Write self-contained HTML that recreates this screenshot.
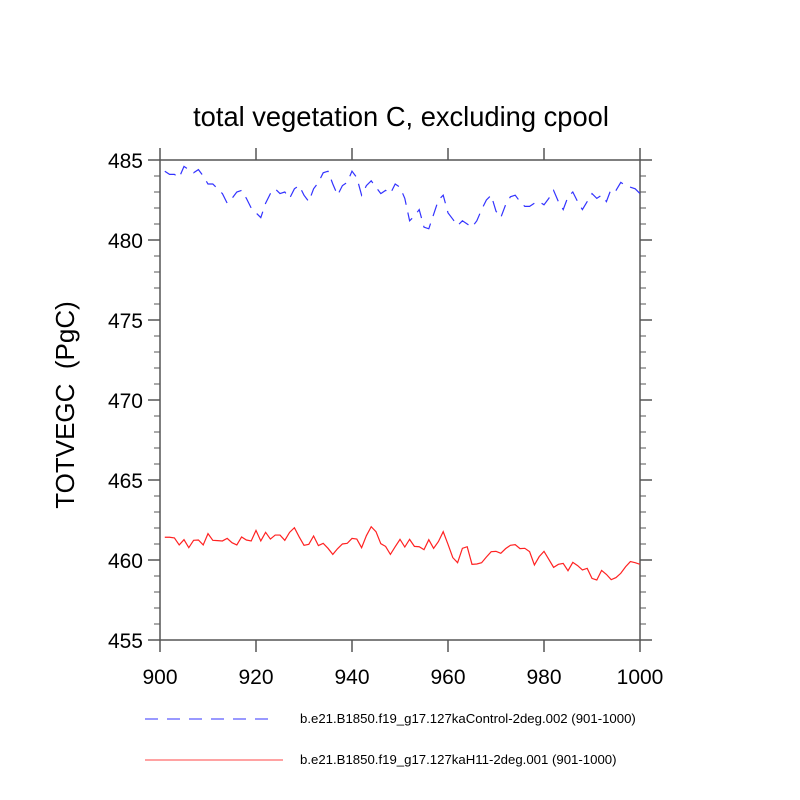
<!DOCTYPE html>
<html><head><meta charset="utf-8"><style>
body{margin:0;background:#fff}
svg{display:block;font-family:"Liberation Sans",Arial,sans-serif}
</style></head><body>
<svg id="c" width="800" height="800" viewBox="0 0 800 800">
<text x="401" y="126" text-anchor="middle" font-size="27.3">total vegetation C, excluding cpool</text>
<text transform="translate(74,405) rotate(-90)" text-anchor="middle" font-size="26" style="white-space:pre">TOTVEGC  (PgC)</text>
<g id="ax"></g>
<g id="series"></g>
<g>
<line x1="145" y1="719" x2="277" y2="719" stroke="#33f" stroke-width="1" stroke-dasharray="13,9"/>
<text x="300" y="723" font-size="13.2">b.e21.B1850.f19_g17.127kaControl-2deg.002 (901-1000)</text>
<line x1="145" y1="760" x2="283" y2="760" stroke="#f44" stroke-width="1"/>
<text x="300" y="764" font-size="13.2">b.e21.B1850.f19_g17.127kaH11-2deg.001 (901-1000)</text>
</g>
</svg>
<script>
const years = Array.from({length:100},(_,i)=>901+i);
const controlValues = [484.3,484.1,484.1,483.9,484.6,484.4,484.2,484.4,484.0,483.5,483.5,483.2,482.9,482.3,482.6,483.0,483.1,482.6,482.0,481.7,481.4,482.3,482.9,483.2,482.9,483.0,482.6,483.2,483.4,482.8,482.4,483.2,483.6,484.2,484.3,483.5,482.8,483.4,483.6,484.3,483.9,482.8,483.4,483.7,483.3,482.9,483.1,482.9,483.5,483.3,482.6,481.2,481.5,481.9,480.8,480.7,481.6,482.5,482.8,481.7,481.3,480.9,481.2,481.0,480.8,481.2,481.9,482.5,482.8,481.8,481.4,482.2,482.7,482.8,482.4,482.1,482.1,482.3,482.4,482.2,482.6,483.1,482.4,481.9,482.7,483.0,482.4,481.9,482.4,482.9,482.6,482.8,482.4,483.2,483.1,483.6,483.4,483.3,483.2,482.9];
const h11Values = [461.42,461.42,461.38,460.94,461.27,460.77,461.23,461.25,460.94,461.65,461.23,461.21,461.19,461.35,461.08,460.94,461.44,461.25,461.19,461.85,461.19,461.73,461.31,461.56,461.56,461.23,461.73,462.02,461.44,460.92,460.98,461.5,460.9,461.04,460.73,460.35,460.71,461.0,461.04,461.35,461.31,460.77,461.52,462.08,461.77,461.02,460.85,460.35,460.83,461.29,460.81,461.29,460.85,460.83,460.65,461.27,460.73,461.15,461.77,460.98,460.15,459.83,460.73,460.83,459.73,459.75,459.83,460.19,460.52,460.54,460.42,460.71,460.92,460.96,460.71,460.73,460.52,459.69,460.21,460.54,460.04,459.54,459.73,459.79,459.33,459.85,459.65,459.38,459.48,458.85,458.75,459.35,459.1,458.77,458.9,459.17,459.58,459.9,459.83,459.73];
const xTicks = [900,920,940,960,980,1000];
const yTicks = [455,460,465,470,475,480,485];
const NS="http://www.w3.org/2000/svg";
const X0=160,X1=640,Y0=160,Y1=640;
const xs=v=>X0+(v-900)/100*(X1-X0);
const ys=v=>Y1-(v-455)/30*(Y1-Y0);
function mk(t,a,p){const e=document.createElementNS(NS,t);for(const k in a)e.setAttribute(k,a[k]);p.appendChild(e);return e;}
const ax=document.getElementById('ax');
const frame=mk('rect',{x:X0,y:Y0,width:X1-X0,height:Y1-Y0,fill:'none',stroke:'#555','stroke-width':1.5},ax);


xTicks.forEach(t=>{
  const x=xs(t);
  mk('line',{x1:x,y1:Y1,x2:x,y2:Y1+12,stroke:'#555','stroke-width':1.5},ax);
  mk('line',{x1:x,y1:Y0,x2:x,y2:Y0-12,stroke:'#555','stroke-width':1.5},ax);
  const tx=mk('text',{x:x,y:Y1+44,'text-anchor':'middle','font-size':21},ax);
  tx.textContent=t;
  
  
});
for(let v=455;v<=485;v++){
  const y=ys(v),maj=v%5===0,L=maj?12:6;
  mk('line',{x1:X0,y1:y,x2:X0-L,y2:y,stroke:'#555','stroke-width':maj?1.5:1},ax);
  mk('line',{x1:X1,y1:y,x2:X1+L,y2:y,stroke:'#555','stroke-width':maj?1.5:1},ax);
}
yTicks.forEach(t=>{
  const tx=mk('text',{x:X0-17,y:ys(t)+8,'text-anchor':'end','font-size':21},ax);
  tx.textContent=t;
  
  
});
const sg=document.getElementById('series');
function line(vals,color,dash,name){
  const d=vals.map((v,i)=>(i?'L':'M')+xs(years[i]).toFixed(2)+','+ys(v).toFixed(2)).join('');
  const p=mk('path',{d:d,fill:'none',stroke:color,'stroke-width':1.2},sg);
  if(dash)p.setAttribute('stroke-dasharray',dash);
  
  
}
line(controlValues,'#33f','12,8','control-series-line');
line(h11Values,'#f22',null,'h11-series-line');
</script>
</body></html>
